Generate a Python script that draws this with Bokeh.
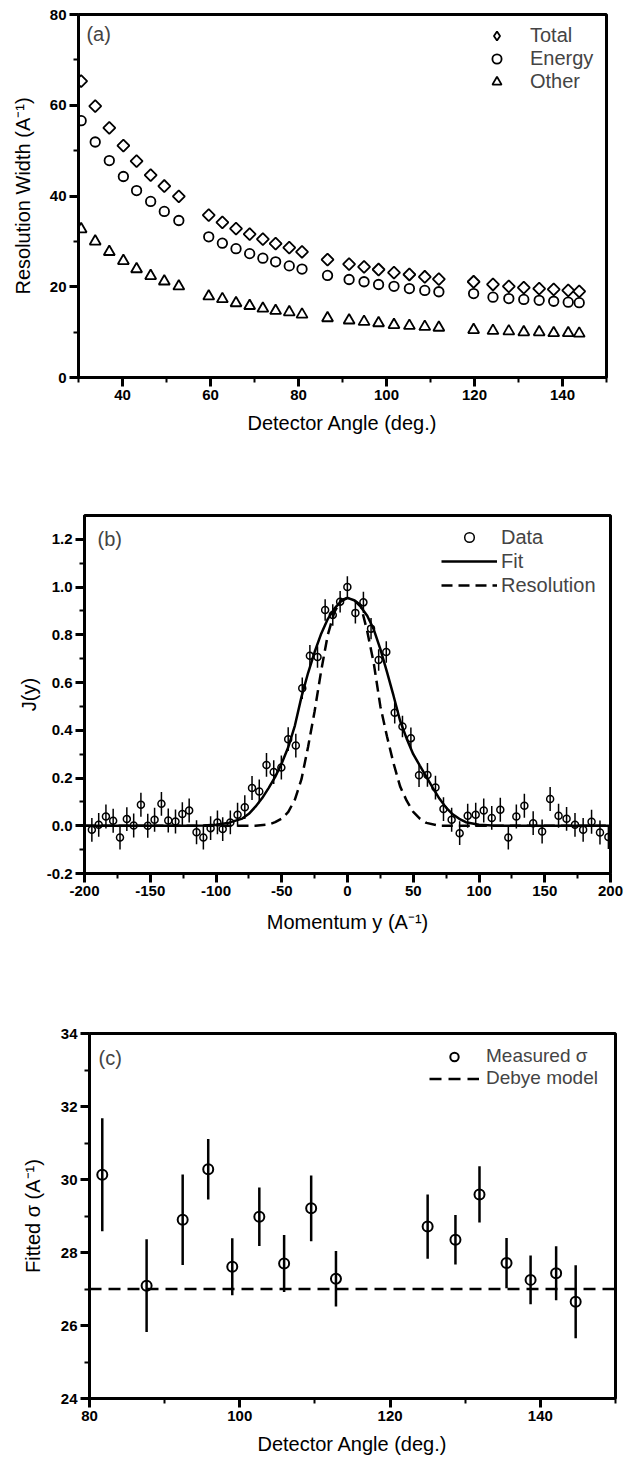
import numpy as np
from bokeh.plotting import figure
from bokeh.models import Range1d, FixedTicker, PrintfTickFormatter, Legend, LegendItem, Label
from bokeh.embed import file_html
from bokeh.resources import INLINE

# ---------------- data: panel (a) ----------------
a_angle = [30.6, 33.8, 37.0, 40.2, 43.2, 46.4, 49.5, 52.8,
           59.6, 62.7, 65.8, 68.9, 71.9, 74.8, 77.9, 80.8,
           86.6, 91.5, 94.9, 98.2, 101.7, 105.2, 108.7, 111.9,
           119.8, 124.2, 127.8, 131.2, 134.7, 138.0, 141.3, 143.8]
a_total = [65.3, 59.8, 55.0, 51.1, 47.7, 44.6, 42.2, 39.9,
           35.8, 34.2, 32.8, 31.6, 30.5, 29.5, 28.6, 27.7,
           26.0, 25.0, 24.4, 23.8, 23.1, 22.7, 22.2, 21.7,
           21.1, 20.5, 20.1, 19.8, 19.6, 19.4, 19.2, 19.0]
a_energy = [56.6, 51.9, 47.8, 44.3, 41.2, 38.8, 36.6, 34.6,
            31.0, 29.6, 28.4, 27.3, 26.3, 25.5, 24.6, 23.9,
            22.5, 21.6, 21.1, 20.5, 20.1, 19.6, 19.2, 18.9,
            18.5, 17.7, 17.4, 17.2, 17.0, 16.8, 16.6, 16.5]
a_other = [32.7, 30.0, 27.7, 25.7, 23.9, 22.4, 21.2, 20.1,
           17.9, 17.3, 16.4, 15.8, 15.2, 14.7, 14.4, 13.9,
           13.1, 12.6, 12.3, 12.0, 11.6, 11.4, 11.2, 11.0,
           10.5, 10.3, 10.2, 10.0, 10.0, 9.8, 9.8, 9.7]

# ---------------- data: panel (b) ----------------
b_y_mom = [-194.4, -189.2, -183.7, -178.2, -173.0, -167.8, -162.6, -157.1, -151.9, -146.7,
           -141.5, -136.3, -130.8, -125.6, -120.4, -114.8, -109.6, -104.1, -98.9, -94.9,
           -89.1, -83.6, -78.1, -72.6, -67.1, -61.6, -56.1, -50.3, -45.1, -39.3,
           -34.4, -28.6, -22.8, -17.0, -11.2, -5.6, -0.1, 6.0, 12.1, 17.9,
           23.7, 29.5, 35.9, 41.8, 48.2, 54.4, 60.8, 66.9, 73.0, 79.2,
           85.3, 91.4, 97.5, 103.6, 109.7, 116.2, 122.3, 128.4, 134.5, 141.2,
           148.0, 154.1, 160.5, 166.6, 173.0, 179.2, 185.6, 192.0, 198.4]
b_J = [-0.017, 0.004, 0.039, 0.021, -0.049, 0.028, 0.001, 0.088, 0.0, 0.025,
       0.092, 0.022, 0.018, 0.049, 0.064, -0.027, -0.049, -0.010, 0.014, -0.014,
       0.014, 0.046, 0.078, 0.158, 0.144, 0.255, 0.225, 0.244, 0.363, 0.336,
       0.576, 0.712, 0.707, 0.904, 0.883, 0.939, 1.000, 0.892, 0.936, 0.826,
       0.695, 0.728, 0.474, 0.416, 0.367, 0.212, 0.213, 0.160, 0.070, 0.025,
       -0.031, 0.042, 0.046, 0.064, 0.033, 0.067, -0.049, 0.039, 0.084, 0.011,
       -0.024, 0.112, 0.042, 0.029, 0.004, -0.017, 0.017, -0.028, -0.047]
b_err = [0.05] * 30 + [0.045] * 15 + [0.05] * 24

fit_mom = [-200, -120, -110, -100, -90, -80, -75, -70, -65, -60, -55, -50, -45, -40, -35,
           -30, -25, -20, -15, -10, -5, 0, 5, 10, 15, 20, 25, 30, 35, 40, 45, 50, 55,
           60, 65, 70, 75, 80, 85, 90, 100, 110, 120, 200]
fit_J = [0.0, 0.0, 0.001, 0.004, 0.013, 0.030, 0.050, 0.080, 0.115, 0.158, 0.205, 0.262,
         0.330, 0.420, 0.540, 0.640, 0.728, 0.805, 0.866, 0.910, 0.940, 0.955, 0.945,
         0.918, 0.880, 0.822, 0.740, 0.645, 0.545, 0.440, 0.365, 0.300, 0.252, 0.205,
         0.158, 0.113, 0.076, 0.048, 0.029, 0.015, 0.004, 0.001, 0.0, 0.0]

res_mom = [-200, -70, -60, -55, -50, -45, -40, -35, -30, -25, -20, -15, -10, -5, 0,
           5, 10, 15, 20, 25, 30, 35, 40, 45, 50, 55, 60, 70, 200]
res_J = [0.0, 0.0, 0.005, 0.015, 0.030, 0.058, 0.110, 0.195, 0.330, 0.480, 0.650,
         0.800, 0.895, 0.945, 0.955, 0.945, 0.925, 0.815, 0.680, 0.500, 0.375, 0.262,
         0.165, 0.105, 0.058, 0.030, 0.012, 0.0, 0.0]

# ---------------- data: panel (c) ----------------
c_angle = [81.7, 87.6, 92.4, 95.8, 99.0, 102.6, 105.9, 109.5, 112.8,
           125.0, 128.7, 131.9, 135.5, 138.7, 142.1, 144.7]
c_sigma = [30.13, 27.09, 28.90, 30.28, 27.61, 28.98, 27.70, 29.21, 27.28,
           28.71, 28.35, 29.59, 27.71, 27.25, 27.43, 26.65]
c_err = [1.55, 1.27, 1.24, 0.83, 0.78, 0.80, 0.78, 0.90, 0.76,
         0.88, 0.68, 0.77, 0.69, 0.67, 0.74, 1.00]
debye_angle = [80, 150]
debye_sigma = [27.0, 27.0]

FONT = "Liberation Sans"


def make_fig(xr, yr, w, h, left, right, top, bottom):
    p = figure(width=w, height=h,
               x_range=Range1d(*xr), y_range=Range1d(*yr),
               output_backend="svg", toolbar_location=None,
               min_border_left=left, min_border_right=right,
               min_border_top=top, min_border_bottom=bottom)
    p.outline_line_color = "black"
    p.outline_line_width = 3
    p.outline_line_alpha = 1
    p.xgrid.visible = False
    p.ygrid.visible = False
    p.background_fill_color = "white"
    for ax in (p.xaxis[0], p.yaxis[0]):
        ax.axis_line_width = 3
        ax.axis_line_color = "black"
        ax.major_tick_line_width = 3
        ax.major_tick_out = 9
        ax.major_tick_in = 0
        ax.minor_tick_line_width = 2
        ax.minor_tick_out = 5
        ax.minor_tick_in = 0
        ax.major_label_text_font = FONT
        ax.major_label_text_font_style = "bold"
        ax.major_label_text_font_size = "15px"
        ax.major_label_text_color = "black"
        ax.major_label_standoff = 3
        ax.axis_label_text_font = FONT
        ax.axis_label_text_font_style = "normal"
        ax.axis_label_text_font_size = "20px"
        ax.axis_label_text_color = "black"
    return p


def legend(p, items, loc, gw, gh, standoff, fsize):
    lg = Legend(items=items, location=loc, padding=0, margin=0, spacing=0,
                glyph_width=gw, glyph_height=gh, label_height=gh,
                label_standoff=standoff,
                label_text_font=FONT, label_text_font_size=fsize,
                border_line_alpha=0, background_fill_alpha=0,
                inactive_fill_alpha=0)
    p.add_layout(lg)


def panel_label(p, x, y, txt):
    p.add_layout(Label(x=x, y=y, text=txt, text_font=FONT, text_font_size="20px",
                       text_baseline="middle", text_align="left"))


# ---------------- panel (a) ----------------
pa = make_fig((30, 150), (0, 80), 626, 460, 78, 20, 14, 83)
pa.xaxis.ticker = FixedTicker(ticks=[40, 60, 80, 100, 120, 140],
                              minor_ticks=[30, 50, 70, 90, 110, 130, 150])
pa.yaxis.ticker = FixedTicker(ticks=[0, 20, 40, 60, 80], minor_ticks=[10, 30, 50, 70])
pa.xaxis.axis_label = "Detector Angle (deg.)"
pa.yaxis.axis_label = "Resolution Width (A\u207b\u00b9)"
pa.xaxis.axis_label_standoff = 9
pa.yaxis.axis_label_standoff = 13

ra1 = pa.scatter(a_angle, a_total, marker="square", angle=np.pi / 4, size=8.5,
                 line_color="black", line_width=1.8, fill_alpha=0)
ra2 = pa.scatter(a_angle, a_energy, marker="circle", size=9.5,
                 line_color="black", line_width=1.8, fill_alpha=0)
ra3 = pa.scatter(a_angle, a_other, marker="triangle", size=11,
                 line_color="black", line_width=1.8, fill_alpha=0)
# hidden twin of the Total series, used only for its legend swatch
# (legend markers are drawn unrotated, so use the diamond marker there)
ra1_leg = pa.scatter(a_angle, a_total, marker="diamond", size=12,
                     line_color="black", line_width=1.8, fill_alpha=0, visible=False)
legend(pa, [LegendItem(label="Total", renderers=[ra1_leg]),
            LegendItem(label="Energy", renderers=[ra2]),
            LegendItem(label="Other", renderers=[ra3])],
       (407, 284), 23, 23, 22, "20px")
panel_label(pa, 31.8, 75.6, "(a)")

# ---------------- panel (b) ----------------
pb = make_fig((-200, 200), (-0.2, 1.3), 626, 515, 84, 16, 55, 102)
pb.xaxis.ticker = FixedTicker(ticks=list(range(-200, 201, 50)),
                              minor_ticks=list(range(-175, 200, 50)))
pb.yaxis.ticker = FixedTicker(ticks=[-0.2, 0.0, 0.2, 0.4, 0.6, 0.8, 1.0, 1.2],
                              minor_ticks=[-0.1, 0.1, 0.3, 0.5, 0.7, 0.9, 1.1])
pb.yaxis.formatter = PrintfTickFormatter(format="%.1f")
pb.xaxis.formatter = PrintfTickFormatter(format="%d")
pb.xaxis.axis_label = "Momentum y (A\u207b\u00b9)"
pb.yaxis.axis_label = "J(y)"
pb.xaxis.axis_label_standoff = 12
pb.yaxis.axis_label_standoff = 4

bx = np.array(b_y_mom)
by = np.array(b_J)
be = np.array(b_err)
pb.segment(bx, by - be, bx, by + be, line_color="black", line_width=1.5)
rb_fit = pb.line(fit_mom, fit_J, line_color="black", line_width=2.5)
rb_res = pb.line(res_mom, res_J, line_color="black", line_width=2.5, line_dash="11 6")
rb_dat = pb.scatter(bx, by, marker="circle", size=7, line_color="black",
                    line_width=1.5, fill_alpha=0)
legend(pb, [LegendItem(label="Data", renderers=[rb_dat]),
            LegendItem(label="Fit", renderers=[rb_fit]),
            LegendItem(label="Resolution", renderers=[rb_res])],
       (357, 276), 56, 24, 4, "20px")
panel_label(pb, -190.1, 1.2, "(b)")

# ---------------- panel (c) ----------------
pc = make_fig((80, 150), (24, 34), 626, 483, 89, 11, 58, 60)
pc.xaxis.ticker = FixedTicker(ticks=[80, 100, 120, 140], minor_ticks=[90, 110, 130, 150])
pc.yaxis.ticker = FixedTicker(ticks=[24, 26, 28, 30, 32, 34], minor_ticks=[25, 27, 29, 31, 33])
pc.xaxis.axis_label = "Detector Angle (deg.)"
pc.yaxis.axis_label = "Fitted \u03c3 (A\u207b\u00b9)"
pc.xaxis.axis_label_standoff = 9
pc.yaxis.axis_label_standoff = 14

cx = np.array(c_angle)
cy = np.array(c_sigma)
ce = np.array(c_err)
rc_deb = pc.line(debye_angle, debye_sigma, line_color="black", line_width=2.5, line_dash="12 7")
pc.segment(cx, cy - ce, cx, cy + ce, line_color="black", line_width=2.5)
rc_dat = pc.scatter(cx, cy, marker="circle", size=10, line_color="black",
                    line_width=2, fill_alpha=0)
legend(pc, [LegendItem(label="Measured \u03c3", renderers=[rc_dat]),
            LegendItem(label="Debye model", renderers=[rc_deb])],
       (340, 309), 50, 21, 7, "19px")
panel_label(pc, 81.2, 33.34, "(c)")

# three independent roots stacked vertically (no frame alignment between them)
open("out.html", "w").write(file_html([pa, pb, pc], INLINE))
